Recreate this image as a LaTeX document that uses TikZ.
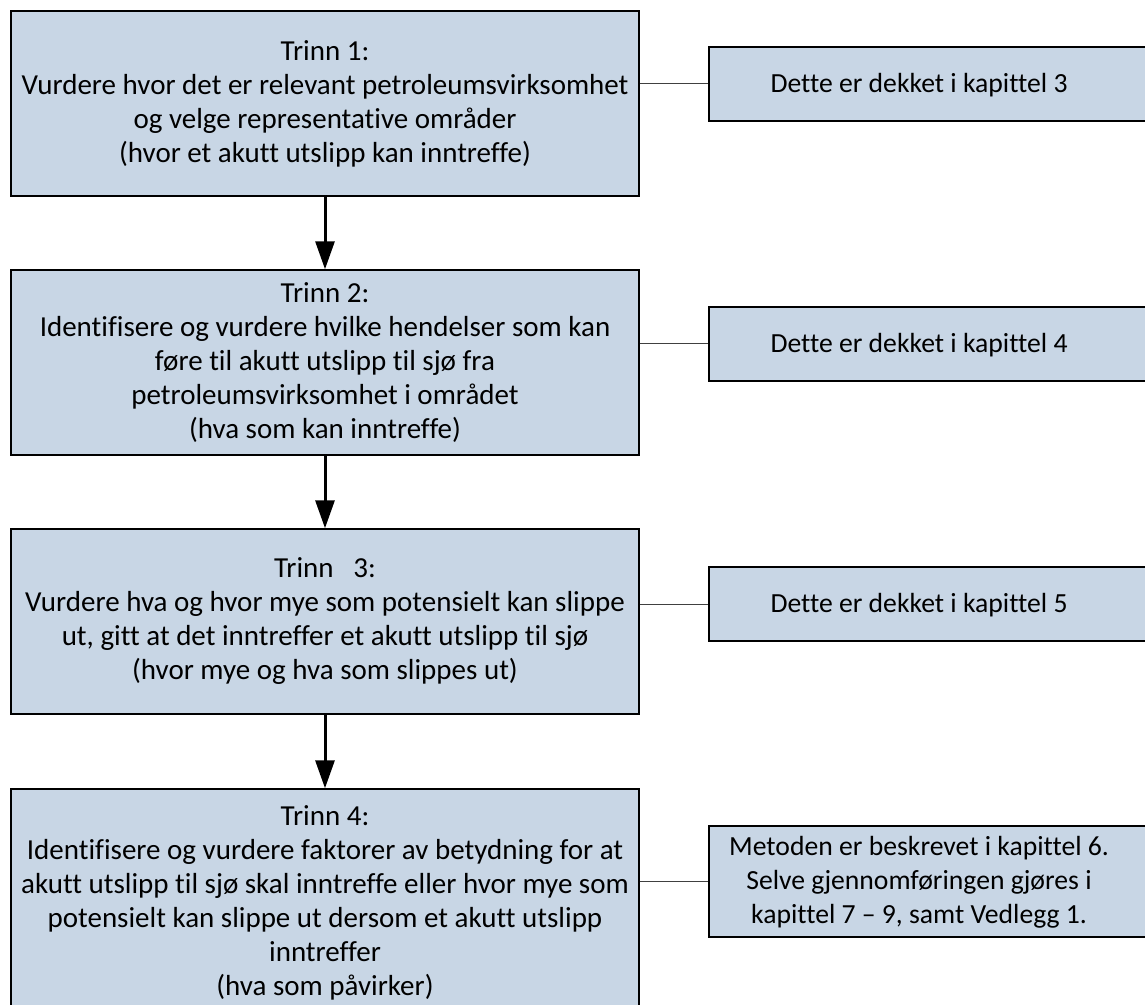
\documentclass[tikz,border=0pt]{standalone}
\usepackage{fontspec}
\setmainfont{Carlito}[Ligatures=CommonOff]
\usetikzlibrary{arrows.meta}
\definecolor{boxfill}{RGB}{200,214,229}
\begin{document}
\begin{tikzpicture}[x=0.75pt,y=-0.75pt,
  stepbox/.style={draw=black, line width=1.1pt, fill=boxfill, inner sep=0pt,
    font=\fontsize{21.75}{25.5}\selectfont, align=center},
  notebox/.style={draw=black, line width=1.1pt, fill=boxfill, inner sep=0pt},
  notetext/.style={font=\fontsize{20.75}{25.5}\selectfont, align=center, inner sep=0pt},
  flow/.style={line width=2.25pt, -{Triangle[width=14.25pt,length=21pt]}},
  link/.style={line width=0.75pt, draw=black!75}]
\useasboundingbox (0,0) rectangle (1145,1005);
\clip (0,0) rectangle (1145,1005);

% main steps
\node[stepbox, minimum width=471pt, minimum height=138.75pt] (s1) at (325,103.5)
  {Trinn 1:\\Vurdere hvor det er relevant petroleumsvirksomhet\\og velge representative områder\\(hvor et akutt utslipp kan inntreffe)};
\node[stepbox, minimum width=471pt, minimum height=138.75pt] (s2) at (325,362.5)
  {Trinn 2:\\Identifisere og vurdere hvilke hendelser som kan\\føre til akutt utslipp til sjø fra\\petroleumsvirksomhet i området\\(hva som kan inntreffe)};
\node[stepbox, minimum width=471pt, minimum height=138.75pt] (s3) at (325,621.5)
  {Trinn\ \ \ 3:\\Vurdere hva og hvor mye som potensielt kan slippe\\ut, gitt at det inntreffer et akutt utslipp til sjø\\(hvor mye og hva som slippes ut)};
\node[stepbox, minimum width=471pt, minimum height=171pt] (s4) at (325,903)
  {Trinn 4:\\Identifisere og vurdere faktorer av betydning for at\\akutt utslipp til sjø skal inntreffe eller hvor mye som\\potensielt kan slippe ut dersom et akutt utslipp\\inntreffer\\(hva som påvirker)};

% chapter references
\node[notebox, minimum width=330.75pt, minimum height=55.5pt] (r1) at (929.5,84) {};
\node[notebox, minimum width=330.75pt, minimum height=55.5pt] (r2) at (929.5,344) {};
\node[notebox, minimum width=330.75pt, minimum height=55.5pt] (r3) at (929.5,604) {};
\node[notebox, minimum width=330.75pt, minimum height=83.25pt] (r4) at (929.5,881.5) {};
\node[notetext] (t1) at (919,85) {Dette er dekket i kapittel 3};
\node[notetext] (t2) at (919,345) {Dette er dekket i kapittel 4};
\node[notetext] (t3) at (919,605) {Dette er dekket i kapittel 5};
\node[notetext] (t4) at (919,882) {Metoden er beskrevet i kapittel 6.\\Selve gjennomføringen gjøres i\\kapittel 7 – 9, samt Vedlegg 1.};

% flow arrows
\draw[flow] (s1.south) -- (s2.north);
\draw[flow] (s2.south) -- (s3.north);
\draw[flow] (s3.south) -- (s4.north);

% links to references
\draw[link] (s1.east |- r1.west) -- (r1.west);
\draw[link] (s2.east |- r2.west) -- (r2.west);
\draw[link] (s3.east |- r3.west) -- (r3.west);
\draw[link] (s4.east |- r4.west) -- (r4.west);
\end{tikzpicture}
\end{document}
